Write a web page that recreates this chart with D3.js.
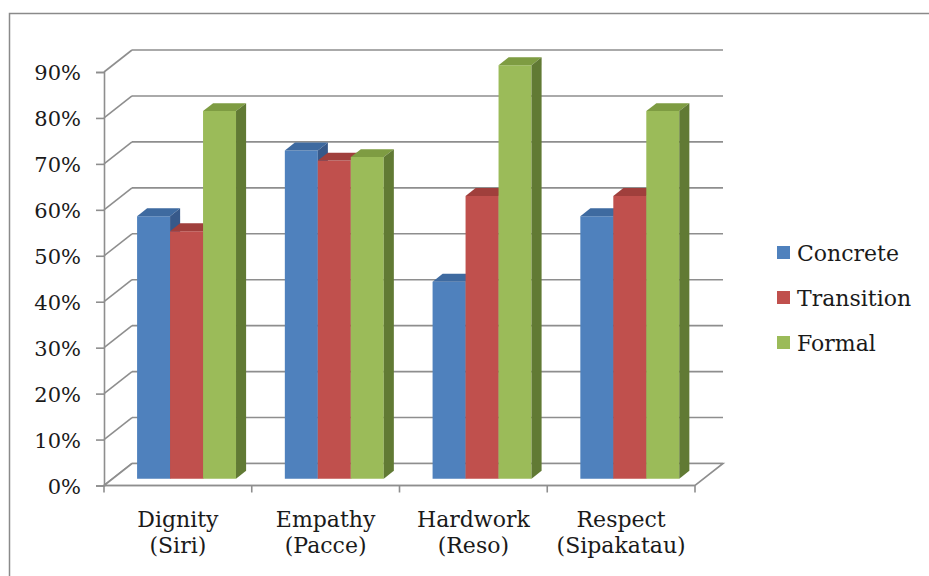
<!DOCTYPE html>
<html>
<head>
<meta charset="utf-8">
<script src="https://cdn.jsdelivr.net/npm/d3@7"></script>
<style>
    body { margin: 0; background: #fff; }
    text { font-family: "DejaVu Serif", serif; fill: #1a1a1a; }
</style>
</head>
<body>
<div id="chart"></div>
<script>
// values (shares of students per stage)
const categories = [["Dignity", "(Siri)"], ["Empathy", "(Pacce)"], ["Hardwork", "(Reso)"], ["Respect", "(Sipakatau)"]];
const seriesNames = ["Concrete", "Transition", "Formal"];
const concrete = [0.5714, 0.7143, 0.4286, 0.5714];
const transition = [0.5385, 0.6923, 0.6154, 0.6154];
const formal = [0.80, 0.70, 0.90, 0.80];
const yTicks = [0, 0.1, 0.2, 0.3, 0.4, 0.5, 0.6, 0.7, 0.8, 0.9];

const seriesValues = [concrete, transition, formal];
const colors = {
    front: ["#4f81bd", "#c0504d", "#9bbb59"],
    top: ["#3e6aa0", "#a03f3c", "#7e9c42"],
    side: ["#37598a", "#8b3633", "#617a34"]
};

const width = 929, height = 576;
const svg = d3.select("#chart").append("svg")
    .attr("width", width)
    .attr("height", height);

// chart border (only left and top show inside the window)
svg.append("rect")
    .attr("x", 9.5).attr("y", 13.5)
    .attr("width", 1000).attr("height", 1000)
    .attr("fill", "none")
    .attr("stroke", "#8a8a8a")
    .attr("stroke-width", 1.5);

// oblique depth: one depth unit goes right and up
const depthX = 28, depthY = -22;
const barZ0 = 0.31, barZ1 = 0.67;

const x0 = d3.scaleBand()
    .domain(categories.map(d => d[0]))
    .range([104, 695]);

const x1 = d3.scaleBand()
    .domain(seriesNames)
    .range([0, x0.bandwidth()])
    .paddingInner(0)
    .paddingOuter(0.74);

const y = d3.scaleLinear()
    .domain([0, 0.9])
    .range([485.5, 72]);

const gridColor = "#8e8e8e";
const grid = svg.append("g");

// back wall gridlines + side wall diagonals
yTicks.forEach(t => {
    grid.append("line")
        .attr("x1", x0.range()[0] + depthX).attr("y1", y(t) + depthY)
        .attr("x2", x0.range()[1] + depthX).attr("y2", y(t) + depthY)
        .attr("stroke", gridColor).attr("stroke-width", 1.6);
    grid.append("line")
        .attr("x1", x0.range()[0]).attr("y1", y(t))
        .attr("x2", x0.range()[0] + depthX).attr("y2", y(t) + depthY)
        .attr("stroke", gridColor).attr("stroke-width", 1.6);
});

// floor
const fx0 = x0.range()[0], fx1 = x0.range()[1], fy = y(0);
grid.append("path")
    .attr("d", `M${fx0},${fy}L${fx1},${fy}L${fx1 + depthX},${fy + depthY}L${fx0 + depthX},${fy + depthY}Z`)
    .attr("fill", "#fff")
    .attr("stroke", gridColor).attr("stroke-width", 1.6);

// y axis
const yAxis = d3.axisLeft(y)
    .tickValues(yTicks)
    .tickSize(8)
    .tickFormat(d3.format(".0%"));

const yAxisGroup = svg.append("g")
    .attr("transform", `translate(${fx0},0)`)
    .call(yAxis);
yAxisGroup.select(".domain").attr("stroke", gridColor).attr("stroke-width", 1.6);
yAxisGroup.selectAll(".tick line").attr("stroke", gridColor).attr("stroke-width", 1.6);
yAxisGroup.selectAll(".tick text")
    .attr("x", -23)
    .attr("dy", "0.36em")
    .style("font-family", "DejaVu Serif")
    .style("font-size", "21px")
    .attr("fill", "#1a1a1a");

// x axis ticks at category edges
const xAxisGroup = svg.append("g");
const edges = categories.map(d => x0(d[0])).concat([fx1]);
edges.forEach(e => {
    xAxisGroup.append("line")
        .attr("x1", e).attr("y1", fy)
        .attr("x2", e).attr("y2", fy + 7)
        .attr("stroke", gridColor).attr("stroke-width", 1.6);
});
xAxisGroup.append("line")
    .attr("x1", fx0).attr("y1", fy).attr("x2", fx1).attr("y2", fy)
    .attr("stroke", gridColor).attr("stroke-width", 1.6);

// category labels
categories.forEach(c => {
    const cx = x0(c[0]) + x0.bandwidth() / 2;
    const label = svg.append("text")
        .attr("text-anchor", "middle")
        .style("font-size", "22px");
    label.append("tspan").attr("x", cx).attr("y", 527).text(c[0]);
    label.append("tspan").attr("x", cx).attr("y", 553).text(c[1]);
});

// 3D bars, drawn left to right so right bars hide left side faces
const bars = svg.append("g");
categories.forEach((c, ci) => {
    seriesNames.forEach((s, si) => {
        const v = seriesValues[si][ci];
        const ox = barZ0 * depthX, oy = barZ0 * depthY;
        const dx = (barZ1 - barZ0) * depthX, dy = (barZ1 - barZ0) * depthY;
        const left = x0(c[0]) + x1(s) + ox;
        const right = left + x1.bandwidth();
        const top = y(v) + oy;
        const bottom = y(0) + oy;

        bars.append("path")
            .attr("d", `M${left},${bottom}L${left},${top}L${right},${top}L${right},${bottom}Z`)
            .attr("fill", colors.front[si]);
        bars.append("path")
            .attr("d", `M${left},${top}L${left + dx},${top + dy}L${right + dx},${top + dy}L${right},${top}Z`)
            .attr("fill", colors.top[si]);
        bars.append("path")
            .attr("d", `M${right},${top}L${right + dx},${top + dy}L${right + dx},${bottom + dy}L${right},${bottom}Z`)
            .attr("fill", colors.side[si]);
    });
});

// legend
const legend = svg.append("g");
seriesNames.forEach((s, i) => {
    const ly = 253 + i * 45;
    legend.append("rect")
        .attr("x", 777).attr("y", ly - 7)
        .attr("width", 13).attr("height", 13)
        .attr("fill", colors.front[i]);
    legend.append("text")
        .attr("x", 797).attr("y", ly + 8)
        .style("font-size", "22px")
        .text(s);
});
</script>
</body>
</html>
